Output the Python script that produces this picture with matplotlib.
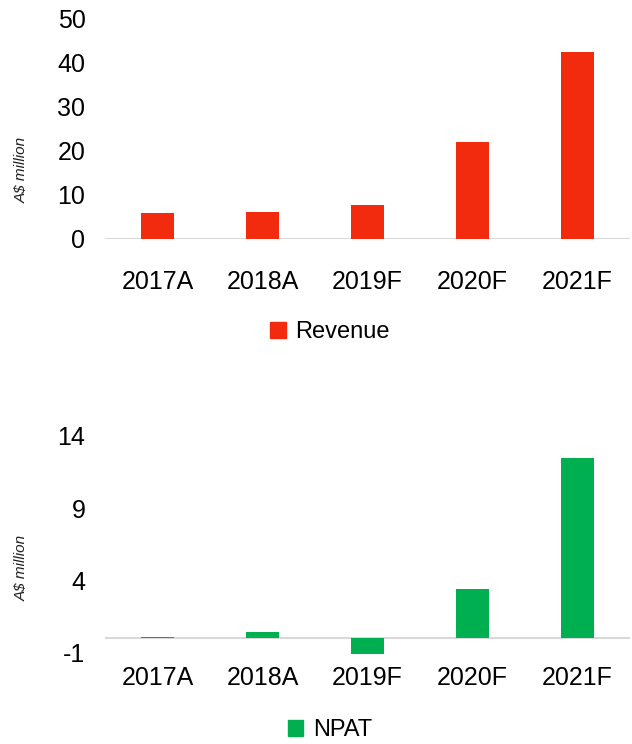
import numpy as np
import matplotlib
matplotlib.use('Agg')
import matplotlib.pyplot as plt
from matplotlib.patches import Patch

plt.rcParams['font.family'] = ['Liberation Sans Narrow', 'Liberation Sans', 'DejaVu Sans']
plt.rcParams['axes.unicode_minus'] = False

years = ['2017A', '2018A', '2019F', '2020F', '2021F']
revenue = [5.7, 6.0, 7.7, 22.0, 42.4]
npat = [0.05, 0.4, -1.15, 3.35, 12.45]

red = '#F22A0E'
green = '#00B050'
axis_grey = '#D9D9D9'

fig = plt.figure(figsize=(6.32, 7.44), dpi=100)

# top chart: revenue
ax1 = fig.add_axes([0.166, 0.6794, 0.831, 0.2953])
x = np.arange(len(years))
ax1.bar(x, revenue, width=0.32, color=red)
ax1.set_xlim(-0.5, 4.5)
ax1.set_ylim(0, 50)
ax1.set_yticks([0, 10, 20, 30, 40, 50])
ax1.set_xticks(x)
ax1.set_xticklabels(years)

# bottom chart: NPAT
ax2 = fig.add_axes([0.166, 0.1196, 0.831, 0.2944])
ax2.bar(x, npat, width=0.32, color=green)
ax2.set_xlim(-0.5, 4.5)
ax2.set_ylim(-1.2, 14)
ax2.set_yticks([-1, 4, 9, 14])
ax2.set_xticks(x)
ax2.set_xticklabels(years)

for ax, pad in ((ax1, 23), (ax2, 8)):
    for s in ['top', 'right', 'left', 'bottom']:
        ax.spines[s].set_visible(False)
    ax.axhline(0, color=axis_grey, lw=1.5, zorder=0.5)
    ax.tick_params(axis='both', length=0, labelsize=18)
    ax.tick_params(axis='x', pad=pad)
    ax.tick_params(axis='y', pad=14)

fig.text(0.035, 1 - 170 / 744, 'A$ million', rotation=90, style='italic',
         fontsize=11, ha='center', va='center', color='#222222')
fig.text(0.035, 1 - 568 / 744, 'A$ million', rotation=90, style='italic',
         fontsize=11, ha='center', va='center', color='#222222')

fig.legend(handles=[Patch(color=red, label='Revenue')], loc='center',
           bbox_to_anchor=(330 / 632, 1 - 332 / 744), frameon=False,
           fontsize=17, handlelength=0.65, handleheight=0.65, handletextpad=0.4)
fig.legend(handles=[Patch(color=green, label='NPAT')], loc='center',
           bbox_to_anchor=(330 / 632, 1 - 730 / 744), frameon=False,
           fontsize=17, handlelength=0.65, handleheight=0.65, handletextpad=0.4)

fig.savefig('out.png', dpi=100)
